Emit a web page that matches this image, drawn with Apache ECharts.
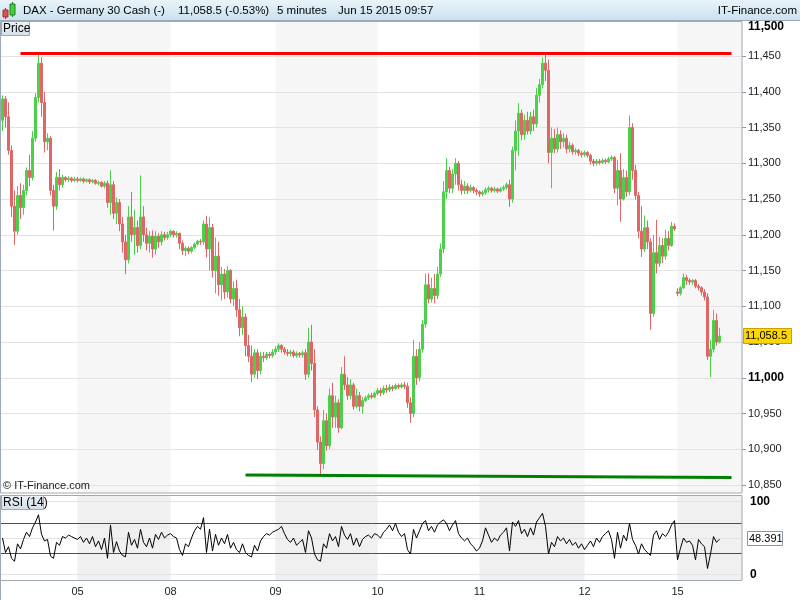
<!DOCTYPE html>
<html><head><meta charset="utf-8">
<script src="https://cdn.jsdelivr.net/npm/echarts@6/dist/echarts.min.js"></script>
<style>html,body{margin:0;padding:0;background:#fff}#c{width:800px;height:600px}</style>
</head><body><div id="c"></div>
<script>
// ---------------- DATA ----------------
const dayLabels = ['05','08','09','10','11','12','15'];
const dayStartIndex = [25,56,91,125,159,194,225];
const slotCount = 247;
// [open, close, low, high] per 5-minute slot
const candles = [
[11360,11390,11345,11395],[11390,11365,11350,11394],[11365,11318,11312,11385],[11318,11240,11225,11325],[11240,11205,11186,11262],
[11205,11255,11200,11268],[11255,11238,11222,11272],[11238,11262,11228,11270],[11262,11290,11255,11294],[11290,11280,11268,11312],
[11280,11335,11276,11345],[11335,11392,11330,11398],[11392,11440,11385,11455],[11440,11385,11365,11448],[11385,11330,11315,11400],
[11330,11335,11318,11342],[11335,11262,11255,11338],[11262,11240,11206,11270],[11240,11280,11235,11288],[11280,11270,11262,11292],
[11270,11280,11266,11284],[11280,11277,11274,11282],[11277,11279,11274,11282],[11279,11276,11273,11281],[11276,11278,11274,11281],
[11278,11276,11273,11281],[11276,11278,11274,11280],[11278,11275,11272,11280],[11275,11277,11273,11279],[11277,11274,11271,11279],
[11274,11276,11272,11278],[11276,11272,11270,11278],[11272,11273,11269,11276],[11273,11268,11266,11275],[11268,11272,11265,11275],
[11272,11245,11238,11276],[11245,11270,11228,11290],[11270,11230,11222,11275],[11230,11245,11215,11252],[11245,11215,11205,11250],
[11215,11190,11175,11225],[11190,11165,11145,11200],[11165,11225,11160,11240],[11225,11200,11190,11260],[11200,11210,11172,11235],
[11210,11185,11175,11220],[11185,11225,11180,11283],[11225,11200,11190,11240],[11200,11188,11178,11210],[11188,11198,11175,11205],
[11198,11180,11168,11206],[11180,11198,11172,11205],[11198,11190,11182,11202],[11190,11200,11185,11205],[11200,11196,11192,11204],
[11196,11200,11193,11204],
[11200,11205,11197,11207],[11205,11200,11196,11206],[11200,11202,11196,11205],[11202,11188,11180,11203],[11188,11178,11172,11192],
[11178,11181,11170,11184],[11181,11177,11173,11184],[11177,11182,11174,11184],[11182,11187,11180,11189],[11187,11191,11185,11193],
[11191,11190,11186,11194],[11190,11215,11186,11220],[11215,11180,11168,11226],[11180,11210,11150,11225],[11210,11150,11140,11215],
[11150,11170,11118,11196],[11170,11130,11115,11190],[11130,11145,11108,11155],[11145,11120,11110,11152],[11120,11150,11112,11156],
[11150,11110,11104,11152],[11110,11125,11100,11135],[11125,11095,11085,11137],[11095,11070,11058,11110],[11070,11085,11060,11100],
[11085,11045,11030,11090],[11045,11030,11022,11060],[11030,11005,10994,11045],[11005,11035,11000,11040],[11035,11010,10998,11040],
[11010,11030,11005,11036],[11030,11028,11022,11036],[11028,11033,11025,11036],[11033,11031,11027,11036],[11031,11036,11028,11040],
[11036,11040,11032,11044],[11040,11045,11036,11048],[11045,11040,11035,11047],[11040,11036,11032,11043],[11036,11034,11030,11040],
[11034,11036,11030,11039],[11036,11031,11028,11039],[11031,11034,11028,11037],[11034,11032,11028,11036],[11032,11035,11028,11038],
[11035,11005,10997,11040],[11005,11050,11000,11070],[11050,11020,11010,11074],[11020,10955,10945,11040],[10955,10910,10899,10960],
[10910,10880,10864,10918],[10880,10940,10872,10955],[10940,10905,10898,10950],[10905,10975,10900,10985],[10975,10945,10930,10993],
[10945,10965,10930,10975],[10965,10930,10923,10970],[10930,11005,10928,11015],[11005,10990,10983,11030],[10990,10975,10969,11001],
[10975,10990,10970,10998],[10990,10960,10955,10993],[10960,10975,10957,10985],[10975,10960,10953,10980],[10960,10968,10950,10973],
[10968,10972,10966,10975],[10972,10975,10969,10978],[10975,10973,10970,10979],[10973,10978,10971,10981],
[10978,10982,10975,10986],[10982,10979,10974,10986],[10979,10985,10976,10989],[10985,10983,10979,10990],[10983,10987,10980,10991],
[10987,10985,10981,10990],[10985,10989,10983,10992],[10989,10987,10984,10992],[10987,10990,10985,10993],[10990,10988,10984,10994],
[10988,10965,10958,10993],[10965,10950,10937,10973],[10950,11030,10945,11053],[11030,11000,10990,11040],[11000,11040,10995,11050],
[11040,11075,11035,11081],[11075,11130,11070,11146],[11130,11110,11104,11146],[11110,11125,11105,11140],[11125,11115,11104,11145],
[11115,11145,11110,11155],[11145,11180,11141,11188],[11180,11260,11174,11275],[11260,11290,11250,11307],[11290,11265,11258,11295],
[11265,11285,11258,11292],[11285,11300,11270,11307],[11300,11270,11262,11303],[11270,11262,11256,11277],[11262,11268,11257,11275],
[11268,11262,11257,11272],[11262,11266,11259,11270],[11266,11262,11258,11268],[11262,11260,11255,11265],
[11260,11257,11253,11262],[11257,11259,11254,11262],[11259,11263,11256,11266],[11263,11265,11259,11268],[11265,11262,11259,11267],
[11262,11264,11259,11267],[11264,11261,11258,11266],[11261,11264,11259,11267],[11264,11266,11261,11269],[11266,11270,11263,11273],
[11270,11250,11239,11277],[11250,11318,11245,11323],[11318,11345,11290,11360],[11345,11370,11310,11384],[11370,11340,11332,11375],
[11340,11360,11333,11368],[11360,11345,11340,11372],[11345,11365,11340,11372],[11365,11355,11345,11375],[11355,11395,11350,11405],
[11395,11410,11385,11418],[11410,11440,11405,11448],[11440,11430,11415,11455],[11430,11315,11300,11445],[11315,11335,11265,11350],
[11335,11320,11314,11348],[11320,11340,11315,11350],[11340,11330,11320,11346],[11330,11335,11322,11342],[11335,11320,11314,11340],
[11320,11325,11315,11330],[11325,11316,11312,11328],[11316,11318,11312,11321],[11318,11314,11310,11320],[11314,11312,11308,11317],
[11312,11315,11309,11318],[11315,11311,11308,11317],[11311,11303,11298,11313],[11303,11300,11296,11306],[11300,11303,11297,11306],
[11303,11301,11298,11306],[11301,11304,11299,11307],[11304,11302,11299,11307],[11302,11306,11300,11309],[11306,11308,11303,11311],
[11308,11265,11258,11310],[11265,11290,11241,11305],[11290,11250,11218,11314],[11250,11280,11248,11292],[11280,11260,11253,11290],
[11260,11350,11255,11367],[11350,11290,11277,11356],[11290,11255,11249,11298],[11255,11205,11195,11260],[11205,11180,11169,11240],
[11180,11210,11176,11227],[11210,11190,11180,11220],[11190,11090,11067,11195],[11090,11175,11085,11200],[11175,11160,11146,11221],
[11160,11185,11155,11197],[11185,11170,11160,11195],[11170,11195,11165,11207],[11195,11185,11178,11205],[11185,11212,11183,11218],
[11212,11208,11205,11216],
[11120,11118,11114,11125],[11118,11126,11115,11128],[11126,11140,11124,11146],[11140,11136,11130,11144],[11136,11134,11130,11139],
[11134,11136,11130,11138],[11136,11128,11125,11138],[11128,11126,11122,11131],[11126,11120,11115,11128],[11120,11113,11108,11124],
[11113,11030,11025,11118],[11030,11040,11001,11053],[11040,11080,11035,11095],[11080,11050,11045,11090],[11050,11058.5,11048,11070]
];
const rsi14 = [
50,30,38,22,18,42,35,48,58,52,64,72,82,55,46,48,25,22,44,40,52,50,54,52,50,
48,52,44,50,42,52,38,46,34,50,22,68,30,45,32,26,24,58,40,48,36,62,44,38,50,36,55,48,58,50,54,
56,52,50,34,26,42,38,50,60,66,62,78,30,62,32,55,40,50,42,55,36,44,34,30,42,30,26,24,40,32,46,52,56,54,58,
60,62,66,56,48,44,50,40,44,48,30,60,50,28,20,18,42,36,56,46,52,38,66,54,48,56,40,50,38,48,52,54,50,56,
54,50,58,62,68,60,70,58,52,56,34,28,62,50,60,70,74,60,66,58,68,72,75,70,60,68,74,56,50,46,50,42,38,32,
36,46,64,54,44,50,46,54,58,64,32,72,66,74,56,62,52,64,54,72,78,84,66,28,44,38,52,46,50,42,48,40,44,36,42,
34,40,46,38,50,44,52,56,60,48,22,58,36,54,46,70,48,40,28,42,34,30,26,54,60,48,56,52,58,68,74,
20,36,50,44,46,40,20,48,42,38,8,28,52,44,48.391
];
const rsiBands = [30, 70];
const resistanceLine = [{slot: 6, price: 11454}, {slot: 243, price: 11454}];
const supportLine = [{slot: 81, price: 10864}, {slot: 243, price: 10860.5}];
const lastPrice = 11058.5;
const lastRsi = 48.391;

// ---------------- CHART ----------------
const FONT = '"Liberation Sans", Arial, sans-serif';
const chart = echarts.init(document.getElementById('c'), null, {renderer: 'canvas'});
const cats = Array.from({length: slotCount}, (_, i) => String(i));
const fmt = v => String(v).replace(/\B(?=(\d{3})+(?!\d))/g, ',');
const UP = '#4cd04c', DOWN = '#e06666';
const BAND = '#3c3cd8';

chart.setOption({
  backgroundColor: '#ffffff',
  animation: false,
  grid: [
    {left: 1, right: 58, top: 20.25, height: 464.75},
    {left: 1, right: 58, top: 501.7, height: 72.6}
  ],
  xAxis: [
    {type: 'category', gridIndex: 0, data: cats, boundaryGap: true,
     axisLine: {show: false}, axisTick: {show: false}, axisLabel: {show: false}, splitLine: {show: false}},
    {type: 'category', gridIndex: 1, data: cats, boundaryGap: true,
     axisLine: {show: false}, axisTick: {show: false}, splitLine: {show: false},
     axisLabel: {interval: (i) => dayStartIndex.includes(i),
       formatter: (v, i) => dayLabels[dayStartIndex.indexOf(i)] || '',
       margin: 12, fontSize: 11, color: '#222', fontFamily: FONT}}
  ],
  yAxis: [
    {type: 'value', gridIndex: 0, position: 'right', min: 10850, max: 11500, interval: 50,
     axisLine: {show: false},
     axisTick: {show: true, length: 4, lineStyle: {color: '#8a96a0'}},
     axisLabel: {margin: 6, showMaxLabel: false, fontSize: 11, color: '#222', fontFamily: FONT,
       formatter: v => v === 11000 ? '{b|' + fmt(v) + '}' : fmt(v),
       rich: {b: {fontWeight: 'bold', fontSize: 12, color: '#000', fontFamily: FONT}}},
     splitLine: {lineStyle: {color: '#e3e3e3', width: 1}}},
    {type: 'value', gridIndex: 1, position: 'right', min: 0, max: 100, interval: 50,
     axisLine: {show: false}, axisTick: {show: false},
     axisLabel: {margin: 8, fontSize: 12, color: '#000', fontFamily: FONT,
       formatter: v => v === 50 ? '' : '{b|' + v + '}',
       rich: {b: {fontWeight: 'bold', fontSize: 12, color: '#000', fontFamily: FONT}}},
     splitLine: {lineStyle: {color: '#e3e3e3', width: 1}}}
  ],
  series: [
    {type: 'candlestick', xAxisIndex: 0, yAxisIndex: 0, data: candles, barWidth: 2,
     itemStyle: {color: UP, color0: DOWN, borderColor: UP, borderColor0: DOWN, borderWidth: 1},
     markLine: {silent: true, symbol: 'none', label: {show: false},
       data: [
         [{coord: [cats[resistanceLine[0].slot], resistanceLine[0].price], lineStyle: {color: '#ff0000', width: 3, type: 'solid'}},
          {coord: [cats[resistanceLine[1].slot], resistanceLine[1].price]}],
         [{coord: [cats[supportLine[0].slot], supportLine[0].price], lineStyle: {color: '#008000', width: 3, type: 'solid'}},
          {coord: [cats[supportLine[1].slot], supportLine[1].price]}]
       ]}},
    {type: 'line', xAxisIndex: 1, yAxisIndex: 1, data: rsi14, showSymbol: false, z: 3,
     lineStyle: {color: '#000', width: 1}}
  ]
});

// decorations placed with the chart's own scales
const px = i => chart.convertToPixel({xAxisIndex: 0}, cats[i]);
const plotRight = 742;
const bands = [[0, 1], [2, 3], [4, 5], [6, -1]];
const g = [];
bands.forEach(([a, b]) => {
  const x0 = px(dayStartIndex[a]);
  const x1 = b < 0 ? plotRight : px(dayStartIndex[b]);
  g.push({type: 'rect', z: -1, silent: true, shape: {x: x0, y: 22, width: x1 - x0, height: 471}, style: {fill: '#f6f6f6'}});
  g.push({type: 'rect', z: -1, silent: true, shape: {x: x0, y: 496, width: x1 - x0, height: 84}, style: {fill: '#f0f0f0'}});
});
// RSI 30 / 70 reference lines
rsiBands.forEach(v => {
  const y = Math.round(chart.convertToPixel({yAxisIndex: 1}, v)) + 0.5;
  g.push({type: 'line', z: 1, silent: true, shape: {x1: 1, y1: y, x2: plotRight, y2: y}, style: {stroke: BAND, lineWidth: 1}});
});
const frame = '#9ea9b3';
g.push({type: 'rect', z: 5, silent: true, shape: {x: 0.5, y: 21.5, width: 741.5, height: 471.5}, style: {fill: null, stroke: frame, lineWidth: 1}});
g.push({type: 'rect', z: 5, silent: true, shape: {x: 0.5, y: 495.5, width: 741.5, height: 85}, style: {fill: null, stroke: frame, lineWidth: 1}});
g.push({type: 'line', z: 5, silent: true, shape: {x1: 0.5, y1: 580, x2: 0.5, y2: 600}, style: {stroke: frame, lineWidth: 1}});
// title bar
g.push({type: 'rect', z: 10, silent: true, shape: {x: 0, y: 0, width: 800, height: 21},
  style: {fill: new echarts.graphic.LinearGradient(0, 0, 0, 1, [{offset: 0, color: '#e8f4fa'}, {offset: 1, color: '#c9e1ee'}]), stroke: null}});
g.push({type: 'line', z: 10, silent: true, shape: {x1: 0, y1: 20.5, x2: 800, y2: 20.5}, style: {stroke: frame, lineWidth: 1}});
g.push({type: 'line', z: 11, silent: true, shape: {x1: 5.5, y1: 8, x2: 5.5, y2: 19}, style: {stroke: '#a03030', lineWidth: 1}});
g.push({type: 'rect', z: 11, silent: true, shape: {x: 3, y: 10, width: 5, height: 7}, style: {fill: '#e05050', stroke: '#a03030', lineWidth: 1}});
g.push({type: 'line', z: 11, silent: true, shape: {x1: 12.5, y1: 2, x2: 12.5, y2: 17}, style: {stroke: '#208020', lineWidth: 1}});
g.push({type: 'rect', z: 11, silent: true, shape: {x: 10, y: 4, width: 5, height: 11}, style: {fill: '#40d040', stroke: '#208020', lineWidth: 1}});
const titleFont = '11.5px ' + FONT;
[['DAX - Germany 30 Cash (-)', 23], ['11,058.5 (-0.53%)', 178], ['5 minutes', 277], ['Jun 15 2015 09:57', 338]].forEach(([t, x]) => {
  g.push({type: 'text', z: 11, silent: true, x: x, y: 11, style: {text: t, font: titleFont, fill: '#000', align: 'left', verticalAlign: 'middle'}});
});
g.push({type: 'text', z: 11, silent: true, x: 797, y: 11, style: {text: 'IT-Finance.com', font: titleFont, fill: '#000', align: 'right', verticalAlign: 'middle'}});
const boxFill = new echarts.graphic.LinearGradient(0, 0, 0, 1, [{offset: 0, color: '#eef3f7'}, {offset: 1, color: '#d3dee7'}]);
g.push({type: 'rect', z: 6, silent: true, shape: {x: 1.5, y: 21.5, width: 28, height: 14}, style: {fill: boxFill, stroke: frame, lineWidth: 1}});
g.push({type: 'text', z: 7, silent: true, x: 3, y: 29, style: {text: 'Price', font: '12px ' + FONT, fill: '#000', align: 'left', verticalAlign: 'middle'}});
g.push({type: 'rect', z: 6, silent: true, shape: {x: 1.5, y: 495.5, width: 42, height: 14}, style: {fill: boxFill, stroke: frame, lineWidth: 1}});
g.push({type: 'text', z: 7, silent: true, x: 3, y: 503, style: {text: 'RSI (14)', font: '12px ' + FONT, fill: '#000', align: 'left', verticalAlign: 'middle'}});
g.push({type: 'text', z: 7, silent: true, x: 3, y: 486, style: {text: '\u00a9 IT-Finance.com', font: '11px ' + FONT, fill: '#222', align: 'left', verticalAlign: 'middle'}});
g.push({type: 'text', z: 7, silent: true, x: 748, y: 27, style: {text: '11,500', font: 'bold 12px ' + FONT, fill: '#000', align: 'left', verticalAlign: 'middle'}});
const yLast = chart.convertToPixel({yAxisIndex: 0}, lastPrice);
g.push({type: 'rect', z: 7, silent: true, shape: {x: 743.5, y: Math.round(yLast) - 7.5, width: 48, height: 15}, style: {fill: '#ffd700', stroke: '#c9a200', lineWidth: 1}});
g.push({type: 'text', z: 8, silent: true, x: 745, y: Math.round(yLast), style: {text: fmt(lastPrice), font: '11px ' + FONT, fill: '#000', align: 'left', verticalAlign: 'middle'}});
const yR = chart.convertToPixel({yAxisIndex: 1}, lastRsi);
g.push({type: 'rect', z: 7, silent: true, shape: {x: 747.5, y: Math.round(yR) - 7.5, width: 35, height: 14}, style: {fill: '#fff', stroke: '#8a96a0', lineWidth: 1}});
g.push({type: 'text', z: 8, silent: true, x: 749, y: Math.round(yR), style: {text: String(lastRsi), font: '11px ' + FONT, fill: '#000', align: 'left', verticalAlign: 'middle'}});

chart.setOption({graphic: {elements: g}});
</script></body></html>
